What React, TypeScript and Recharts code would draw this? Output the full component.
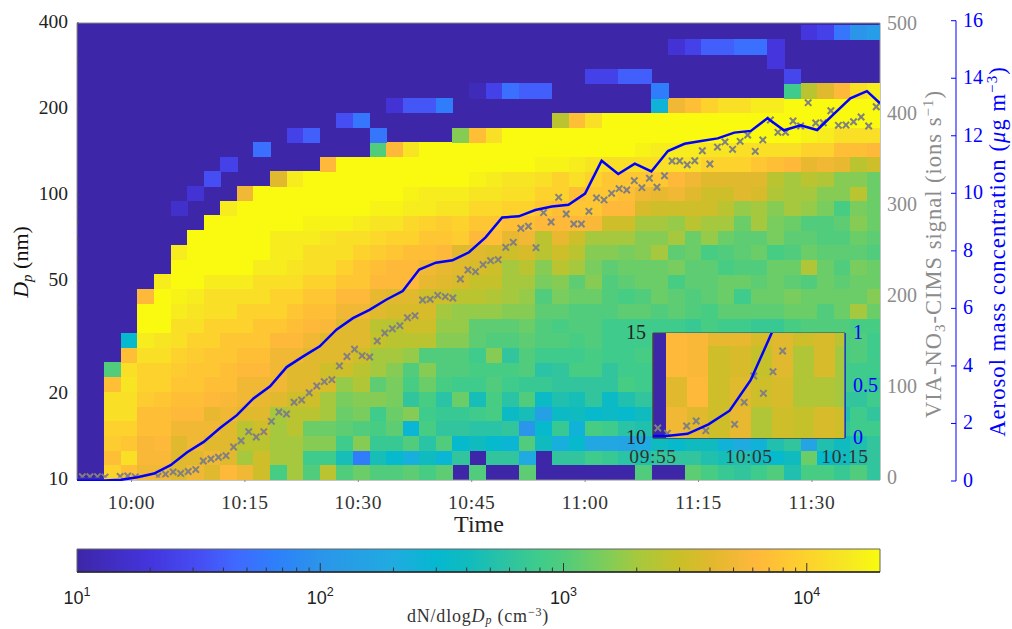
import React from 'react';
import { ComposedChart, Line, Scatter, XAxis, YAxis, ReferenceArea } from 'recharts';

// minutes relative to 10:00, left edge of every size scan
const scanMinutes = [
  -7.99, -5.8, -3.6, -1.41, 0.78, 2.98, 5.17, 7.36, 9.55, 11.75, 13.94, 16.13, 18.33, 20.52, 22.71, 24.9, 27.1,
  29.29, 31.48, 33.68, 35.87, 38.06, 40.25, 42.45, 44.64, 46.83, 49.03, 51.22, 53.41, 55.6, 57.8, 59.99, 62.18,
  64.38, 66.57, 68.76, 70.95, 73.15, 75.34, 77.53, 79.73, 81.92, 84.11, 86.3, 88.5, 90.69, 92.88, 95.08, 97.27,
];

// bin centres in nm, bottom row first
const dpRows = [
  10.61, 11.94, 13.44, 15.13, 17.03, 19.17, 21.58, 24.3, 27.35, 30.79, 34.66, 39.0, 43.9, 49.4, 55.6, 62.6, 70.5,
  79.4, 89.3, 100.5, 113.2, 127.4, 143.4, 161.4, 181.7, 204.6, 230.3, 259.2, 291.8, 328.5, 369.8,
];

// 10*log10(dN/dlogDp), one list per size bin, bottom row first
const logDnRows = [
  [10,10,40,38.5,37,37,36,37,36,38,37,35,29.5,33,30,34,30,31,30,30,30.5,29.5,30.5,10,30,10,10,30.5,10,10,10,10,10,10,30,10,10,30.5,29.5,28.5,28,29,30,27,29.5,29.5,28.5,30,28],
  [10,10,38.5,41,37.5,37.5,36,36,37,36,33,35,33,33,29,29,26.5,18,26.5,25,23.5,26,24.5,28,10,28,28,23,10,28,28,29,28.5,27.5,27,28,28,28,27,26.5,27,26,25,26,31,25,26,27,28],
  [10,10,39.5,39,37.5,38,36,37,36,36,34,34,33,33,32,32,29,32,28.5,28.5,30,27.5,30,25,26,25,24.5,30,26,23.5,25,22.5,22.5,22,23,26,25,26,26,24,23,24,27,28,22,27,26,27,28],
  [10,10,40,40,38.5,38.5,37,37,37,36,34,35,33,34,31,31,30.5,30,29.5,30.5,24.5,29.5,28,28,27.5,27.5,28,20,25,28.5,24,29.5,29,27.5,27,28,28,28,28,28,28,28,28,28,28,28,28,29,29],
  [10,10,41,41,38.5,38.5,38,38,36.5,37,36,36,33,34,34,33,31,31.5,29,31,32,29,28.5,28.5,29,29.5,25.5,26.5,21.5,25.5,26,25,25.5,25,26,27,27,27,27,27,27,27,27,27,27,27,27,29,28],
  [10,10,41,41,39.5,39,38.5,38.5,38,37.5,37,36.5,36,35,35,33,31.5,32,32,31.5,28,29.5,27.5,31,26.5,29.5,27.5,30,25.5,27,26.5,28,25.5,27,28,28,28,28,28,28,28,28,28,28,28,28,28,28,29],
  [10,10,38.5,41.5,40,40,39,39,38.5,38.5,37,37,37,36,36,35.5,32.5,33.5,30.5,31.5,29.5,31,29.5,29,29,30,29,28.5,28.5,28,28,28,28,29.5,29,29,29,29,29,29,29,29,29,29,29,29,29,29,28.5],
  [10,10,30,41,40,40,39.5,39,39,38.5,38,38,37,36,36,35,35,34,33,32,30,32,30,30,29.5,29.5,29.5,30,27.5,28,29.5,29.5,28,29,29,29,29,29,29,29,29,29,29,29,29,29,29,29,29],
  [10,10,10,38.5,41,41,40,39.5,39,39,38.5,38.5,37,37,36,36,36,35,33,33,32.5,30,30,30,29,32,28,30,29,29,29,29.5,29,29,29.5,29.5,29.5,29.5,29.5,29.5,29.5,29.5,29.5,29.5,29.5,29.5,29.5,30,29],
  [10,10,10,25,42,41.5,41,40,40,39,39,39,38,38,37,36,36,36,34.5,34,34,34,32,32,30.5,30,30,30.5,30,30,29.5,30,29,29,29,29.5,29.5,29.5,29.5,29.5,29.5,29.5,29.5,29.5,29.5,29.5,29.5,30,29],
  [10,10,10,10,43,43,41,41,40,40,40,39,39,38.5,38,37.5,36,36,34,34,35,35,32.5,32.5,30.5,30.5,30.5,31,30,29.5,30,30,29,29,29,29,29,28.5,29.5,29,29,28.5,28.5,29.5,30,30,30,29.5,29.5],
  [10,10,10,10,43,43,42,41.5,41,41,40,40,40,39,38.5,38.5,37,37,36,35.5,35.5,35.5,33,32.5,32.5,32.5,32,32,30.5,30.5,30,30,30,30.5,30.5,30,30.5,30,29.5,30.5,30.5,30.5,30.5,31,31,30,31,33,31],
  [10,10,10,10,38,43,42.5,42,41,41,41,41,40,40,39,39,38,38,36.5,36,36,35,35,34,34,33.5,33,32.5,30,31.5,31,31,30,29.5,30,31,30.5,30,30.5,31,29,31,31,31.5,31,31,31,31,32],
  [10,10,10,10,10,42,43,43,42,42,42,41,41,41,40,40,39,39,38,38,38,36.5,36,35.5,34.5,34.5,33,33,31.5,32,30.5,32,30,30.5,31,31,29.5,30.5,30.5,31,31,30.5,31,30.5,30,31,30.5,31,31],
  [10,10,10,10,10,10,43,43,43,43,43,42,42,41.5,41,41,40,39,38.5,38,38,37,36.5,36,35.5,35,33,34,32,34,33,31.5,30.5,31,31,31,31.5,30.5,30.5,29.5,30,30,31,31,33.5,31,30,31.5,31],
  [10,10,10,10,10,10,42,43,43,43,43,43,42,42,41,41,41,40,39.5,39,38.5,38.5,38,36,36,35.5,35,35.5,34,35,34,32,32,31.5,32,33,30.5,31,29.5,30,30.5,31,29.5,30,31,30.5,30.5,30.5,30],
  [10,10,10,10,10,10,10,43,43,43,43,43,42,42,42,41.5,41,41,40.5,40,40,39,39,39.5,38,38.5,36.5,37,34,36.5,35,33,33,33,32,32,33,31,32.5,31,30.5,30.5,31.5,30.5,30.5,30,30,31,30.5],
  [10,10,10,10,10,10,10,10,43,43,43,43,43,43,42.5,42.5,42.5,42,41.5,41.5,40.5,40,39.5,40,39,39,38.5,38.5,38,38,38,37.5,35,35,33,33,32.5,34,33,33,31,33,31.5,31,30,30,30.5,32,31],
  [10,10,10,10,10,10,12,10,10,42,43,43,43,43,43,43,43,43,42.5,42.5,42,42,41.5,41.5,40.5,40.5,40,40,39,38.5,39,39,38,38,35.5,35,35,35,35,34,32.5,33,32,33,32.5,31.5,29.5,31.5,31],
  [10,10,10,10,10,10,10,12.5,10,10,37,43,43,43,43,43,43,43,43,43,42.5,42,42,42,41.5,41.5,41,41,40,40,38.5,39,39,38.5,37,36.5,37,36,35,35,36,35.5,33.5,33,33,32,32,34,31],
  [10,10,10,10,10,10,10,10,15,10,10,10,36,42,43,43,43,43,43,43,43,43,43,43,42.5,42,41.5,41.5,41,40,41,40,39,39,39,39,38,37,36,36,36,36,34,33,34,33.5,32,32,31],
  [10,10,10,10,10,10,10,10,10,14,10,10,10,10,10,38,43,43,43,43,43,43,43,43,43,43,43,43,42.5,42.5,42,41.5,41,41,41,41,41,41,40,40,40,39,38.5,38,36.5,37,36.5,34,35],
  [10,10,10,10,10,10,10,10,10,10,10,17,10,10,10,10,10,10,30,38,41.5,43,43,43,43,43,43,43,43,43,43,43,43,43,42.5,42,42,42,41.5,41.5,41,41,41,41,40,40,38.5,38.5,38],
  [10,10,10,10,10,10,10,10,10,10,10,10,10,14,16,10,10,10,17.5,10,10,10,10,32,38.5,41,43,43,43,43,43,43,43,43,43,43,43,43,43,43,43,43,43,43,42.5,42,41,41,41],
  [10,10,10,10,10,10,10,10,10,10,10,10,10,10,10,10,15,17.5,10,10,10,10,10,10,10,10,10,10,10,34,38.5,41,43,43,43,43,43,43,43,43,43,43,43,43,43,43,43,43,43],
  [10,10,10,10,10,10,10,10,10,10,10,10,10,10,10,10,10,10,10,12.5,15.5,15.5,18,10,10,10,10,10,10,10,10,10,10,10,10,24,37,38.5,40,41,41,42,42,43,43,43,43,43,43],
  [10,10,10,10,10,10,10,10,10,10,10,10,10,10,10,10,10,10,10,10,10,10,10,10,11,14,17,16,16,10,10,10,10,10,10,18,10,10,10,10,10,10,10,29,34,36,38,41,42],
  [10,10,10,10,10,10,10,10,10,10,10,10,10,10,10,10,10,10,10,10,10,10,10,10,10,10,10,10,10,10,10,14,14,16,16,10,10,10,10,10,10,10,10,14.5,10,10,10,10,10],
  [10,10,10,10,10,10,10,10,10,10,10,10,10,10,10,10,10,10,10,10,10,10,10,10,10,10,10,10,10,10,10,10,10,10,10,10,10,10,10,10,10,10,13,10,10,10,10,10,10],
  [10,10,10,10,10,10,10,10,10,10,10,10,10,10,10,10,10,10,10,10,10,10,10,10,10,10,10,10,10,10,10,10,10,10,10,10,12.5,14,16,16,17,17,13,10,10,10,10,10,10],
  [10,10,10,10,10,10,10,10,10,10,10,10,10,10,10,10,10,10,10,10,10,10,10,10,10,10,10,10,10,10,10,10,10,10,10,10,10,10,10,10,10,10,10,10,13,14,17.5,20,21],
];

// inset keeps its own small grid, scans 2 to 10, bottom row first
const insetRows = [
  [37, 36, 35, 36.5, 33.5, 35, 34.5, 35.5, 35],
  [36, 38, 35, 36, 35, 35.5, 33.5, 33.5, 33],
  [38, 37.5, 35, 35.5, 34.5, 36, 33.5, 35.5, 33],
  [38, 37.5, 36.5, 36.5, 35.5, 36, 35, 35.5, 34],
];

const massMinutes = [
  -7.2, -5.8, -3.6, -1.41, 0.78, 2.98, 5.17, 7.36, 9.55, 11.75, 13.94, 16.13, 18.33, 20.52, 22.71, 24.9, 27.1,
  29.29, 31.48, 33.68, 35.87, 38.06, 40.25, 42.45, 44.64, 46.83, 49.03, 51.22, 53.41, 55.6, 57.8, 59.99, 62.18,
  64.38, 66.57, 68.76, 70.95, 73.15, 75.34, 77.53, 79.73, 81.92, 84.11, 86.3, 88.5, 90.69, 92.88, 95.08, 97.27, 99,
];
const massValues = [
  0.02, 0.02, 0.02, 0.04, 0.13, 0.26, 0.55, 1.0, 1.36, 1.85, 2.29, 2.87, 3.29, 3.96, 4.33, 4.68, 5.26,
  5.66, 5.95, 6.3, 6.6, 7.35, 7.59, 7.67, 7.95, 8.47, 9.16, 9.2, 9.42, 9.54, 9.6, 9.99, 11.13,
  10.67, 11.03, 10.76, 11.47, 11.72, 11.82, 11.91, 12.11, 12.17, 12.61, 12.19, 12.36, 12.2, 12.75, 13.3, 13.55, 13.13,
];

const signalMinutes = [
  -6.5, -5.5, -4.5, -3.5, -1.5, -0.5, 0.5, 3.5, 4.5, 5.5, 6.5, 7.5, 8.5, 9.5, 10.5, 11.5, 12.5, 13.5, 14.5, 15.5,
  16.5, 17.5, 18.5, 19.5, 20.5, 21.5, 22.5, 23.5, 24.5, 25.5, 26.5, 27.5, 28.5, 29.5, 30.5, 31.5, 32.5, 33.5, 34.5,
  35.5, 36.5, 37.5, 38.5, 39.5, 40.5, 41.5, 42.5, 43.5, 44.5, 45.5, 46.5, 47.5, 48.5, 49.5, 50.5, 51.5, 52.5, 53.5,
  54.5, 55.5, 56.5, 57.5, 58.5, 59.5, 60.5, 61.5, 62.5, 63.5, 64.5, 65.5, 66.5, 67.5, 68.5, 69.5, 70.5, 71.5, 72.5,
  73.5, 74.5, 75.5, 76.5, 77.5, 78.5, 79.5, 80.5, 81.5, 82.5, 83.5, 84.5, 85.5, 86.5, 87.5, 88.5, 89.5, 90.5, 91.5,
  92.5, 93.5, 94.5, 95.5, 96.5, 97.5, 98.5,
];
const signalValues = [
  0.9, 0.9, 1.0, 0.47, 1.2, 1.7, 0.73, 1.37, 3.57, 6.2, 4.47, 6.63, 8.7, 18.2, 20.4, 22.3, 24, 33.6, 40.5, 50.5,
  44.6, 50.5, 61.9, 72.2, 70, 82.9, 85.4, 93.4, 100.8, 105.6, 107.8, 122.9, 133.3, 141.3, 134.2, 132.8, 150.4, 159.2, 163.9,
  167.3, 176, 178.3, 195.6, 196.3, 200.7, 199.2, 197.8, 218.7, 228.6, 226.8, 234.5, 238.9, 240, 253.6, 259.1, 274.6, 276.8, 253.2,
  291.8, 281.5, 308.7, 290.3, 279.3, 279.3, 293.3, 308, 305.8, 313.1, 318.2, 316.8, 327, 319.3, 329.7, 319.8, 332.5, 348.7, 348.7,
  344.6, 349, 360, 345.4, 364.1, 369.7, 361.6, 370.4, 377.4, 359.4, 371.9, 393.9, 380.3, 380.3, 392.8, 387.3, 413, 390.6, 390.9,
  404.1, 388, 388.4, 392, 397.2, 387.3, 408.5,
];

const timeTicks = [0, 15, 30, 45, 60, 75, 90];
const timeLabels = ['10:00', '10:15', '10:30', '10:45', '11:00', '11:15', '11:30'];
const dpTicks = [10, 20, 30, 40, 50, 60, 70, 80, 90, 100, 200, 300, 400];
const dpLabels = [10, 20, 50, 100, 200, 400];
const signalTicks = [0, 100, 200, 300, 400, 500];
const massTicks = [0, 2, 4, 6, 8, 10, 12, 14, 16];
const insetTimeTicks = [-5, 5, 15];
const insetTimeLabels = ['09:55', '10:05', '10:15'];
const insetMassTicks = [0, 0.5, 1];
const colorbarTicks = [
  10, 20, 30, 40, 50, 60, 70, 80, 90, 100, 200, 300, 400, 500, 600, 700, 800, 900, 1000,
  2000, 3000, 4000, 5000, 6000, 7000, 8000, 9000, 10000,
];
const colorbarLabels: Record<number, string> = { 10: '1', 100: '2', 1000: '3', 10000: '4' };

const colorLevels = [10, 13, 15.2, 16.6, 18.2, 20, 23, 24.8, 26.2, 27.8, 29.1, 30, 31.7, 33.1, 34.7, 36.1, 37.9, 40, 41.7, 43.1];
const colorHexes = [
  '#3d26a8', '#4435dd', '#4650f5', '#3f6aff', '#2d80fa', '#2b95ea', '#20abe0', '#05b8d0', '#12bcbc', '#2fc4a0',
  '#40cc8a', '#50cc7c', '#7dcd5a', '#a8c83c', '#c8c028', '#e2b82e', '#ffb83b', '#fdd22c', '#f6e822', '#f9fb0e',
];

const W = 1012;
const H = 629;
const DARK = '#3d26a8';
const SERIF = '"Liberation Serif", serif';
const SANS = '"Liberation Sans", sans-serif';
const GREY = '#8c8c8c';
const BLUE = '#0000ff';
const X_DOMAIN: [number, number] = [-7.21, 99];
const SCAN_STEP = 2.193;
const DP_STEP = 1.1257; // ratio between neighbouring bins
const CELL_OVERLAP = 0.6; // stops the dark background showing between rounded cells

const hexRgb = (h: string) => [1, 3, 5].map(i => parseInt(h.slice(i, i + 2), 16));

const levelColor = (level: number) => {
  let i = 0;
  while (i < colorLevels.length - 2 && level > colorLevels[i + 1]) i++;
  const f = Math.min(1, Math.max(0, (level - colorLevels[i]) / (colorLevels[i + 1] - colorLevels[i])));
  const a = hexRgb(colorHexes[i]);
  const b = hexRgb(colorHexes[i + 1]);
  return `rgb(${a.map((v, j) => Math.round(v + (b[j] - v) * f)).join(',')})`;
};

const heatCells = logDnRows.flatMap((row, r) =>
  row.map((level, k) => ({ t: scanMinutes[k] + SCAN_STEP / 2, d: dpRows[r], level })).filter(c => c.level > 10)
);
const insetCells = insetRows.flatMap((row, r) =>
  row.map((level, k) => ({ t: scanMinutes[k + 2] + SCAN_STEP / 2, d: dpRows[r], level }))
);
const massData = massMinutes.map((t, i) => ({ t, mass: massValues[i] }));
const signalData = signalMinutes.map((t, i) => ({ t, signal: signalValues[i] }));
// only the first part of the mass curve reaches the inset
const insetMassData = massData.filter(p => p.t >= -5.8 && p.t <= 9.55);

type Box = { left: number; right: number; top: number; bottom: number };

// one heat map cell, the scales give the centre and the box keeps it inside the plot
const makeCell = (box: Box, xPerMin: number, yPerBin: number) => (props: any) => {
  const { cx, cy, payload } = props;
  const w = SCAN_STEP * xPerMin;
  const x0 = Math.max(cx - w / 2, box.left);
  const x1 = Math.min(cx + w / 2 + CELL_OVERLAP, box.right);
  const y0 = Math.max(cy - yPerBin / 2 - CELL_OVERLAP, box.top);
  const y1 = Math.min(cy + yPerBin / 2, box.bottom);
  return <rect x={x0} y={y0} width={Math.max(0, x1 - x0)} height={Math.max(0, y1 - y0)} fill={levelColor(payload.level)} shapeRendering="crispEdges" />;
};

const Cross = (props: any) => {
  const { cx, cy } = props;
  const s = 3.2;
  return (
    <g stroke="#808080" strokeWidth={2}>
      <line x1={cx - s} y1={cy - s} x2={cx + s} y2={cy + s} />
      <line x1={cx - s} y1={cy + s} x2={cx + s} y2={cy - s} />
    </g>
  );
};

const mainBox: Box = { left: 77, right: 880, top: 23, bottom: 480 };
const insetBox: Box = { left: 653, right: 845, top: 333, bottom: 438 };
const MainCell = makeCell(mainBox, 803 / (X_DOMAIN[1] - X_DOMAIN[0]), (457 * Math.log(DP_STEP)) / Math.log(40));
const InsetCell = makeCell(insetBox, 192 / 20, (105 * Math.log(DP_STEP)) / Math.log(1.5));

const Layer: React.FC<{ children: React.ReactNode }> = ({ children }) => (
  <div style={{ position: 'absolute', left: 0, top: 0, width: W, height: H }}>{children}</div>
);

const TimeTick = (props: any) => {
  const { x, y, payload } = props;
  return (
    <g>
      <line x1={x} x2={x} y1={y} y2={y + 2} stroke={GREY} />
      <text x={x} y={y + 29} textAnchor="middle" fontFamily={SERIF} fontSize={19.5} letterSpacing={0.6} fill="#333">
        {timeLabels[timeTicks.indexOf(payload.value)]}
      </text>
    </g>
  );
};

const TopTick = (props: any) => <line x1={props.x} x2={props.x} y1={props.y} y2={props.y - 2} stroke={GREY} />;

const DpTick = (props: any) => {
  const { x, y, payload } = props;
  const label = dpLabels.includes(payload.value);
  return (
    <g>
      <line x1={x} x2={x + 2} y1={y} y2={y} stroke="#555" />
      {label && (
        <text x={x - 9} y={y + 5} textAnchor="end" fontFamily={SERIF} fontSize={19.5} fill="#222">
          {payload.value}
        </text>
      )}
    </g>
  );
};

const SignalTick = (props: any) => {
  const { x, y, payload } = props;
  return (
    <text x={x + 7} y={y + 6} fontFamily={SERIF} fontSize={20} fill={GREY}>
      {payload.value}
    </text>
  );
};

const MassTick = (props: any) => {
  const { x, y, payload } = props;
  return (
    <g>
      <line x1={x - 5} x2={x} y1={y} y2={y} stroke={BLUE} />
      <text x={x + 7} y={y + 6} fontFamily={SERIF} fontSize={20} fill={BLUE}>
        {payload.value}
      </text>
    </g>
  );
};

const InsetTimeTick = (props: any) => {
  const { x, y, payload } = props;
  return (
    <text x={x} y={y + 25} textAnchor="middle" fontFamily={SERIF} fontSize={19.5} letterSpacing={0.6} fill="#333">
      {insetTimeLabels[insetTimeTicks.indexOf(payload.value)]}
    </text>
  );
};

const InsetDpTick = (props: any) => {
  const { x, y, payload } = props;
  return (
    <text x={x - 7} y={y + 6} textAnchor="end" fontFamily={SERIF} fontSize={20} fill="#222">
      {payload.value}
    </text>
  );
};

const InsetMassTick = (props: any) => {
  const { x, y, payload } = props;
  return (
    <text x={x + 8} y={y + 6} fontFamily={SERIF} fontSize={20} fill={BLUE}>
      {payload.value}
    </text>
  );
};

const ColorbarTick = (props: any) => {
  const { x, y, payload } = props;
  const exp = colorbarLabels[payload.value];
  return (
    <g>
      {payload.value > 10 && <line x1={x} x2={x} y1={y} y2={y - (exp ? 9 : 4.5)} stroke="#333" />}
      {exp && (
        <text x={x} y={y + 32} textAnchor="middle" fontFamily={SANS} fontSize={18} fill="#222">
          10
          <tspan dy={-8} fontSize={12.5}>{exp}</tspan>
        </text>
      )}
    </g>
  );
};

const App: React.FC = () => (
  <div style={{ position: 'absolute', left: 0, top: 0, width: W, height: H, background: '#fff' }}>
    {/* size distribution with time and diameter axes */}
    <Layer>
      <ComposedChart width={W} height={H} margin={{ top: 22, right: 131, bottom: 119, left: 17 }}>
        <XAxis xAxisId="t" dataKey="t" type="number" domain={X_DOMAIN} allowDataOverflow ticks={timeTicks} interval={0}
          tick={TimeTick} tickLine={false} tickSize={0} tickMargin={0} height={30} axisLine={{ stroke: GREY }} />
        <XAxis xAxisId="top" orientation="top" type="number" domain={X_DOMAIN} allowDataOverflow ticks={timeTicks} interval={0}
          tick={TopTick} tickLine={false} tickSize={0} tickMargin={0} height={1} axisLine={{ stroke: GREY }} />
        <YAxis yAxisId="dp" dataKey="d" type="number" scale="log" domain={[10, 400]} allowDataOverflow ticks={dpTicks} interval={0}
          tick={DpTick} tickLine={false} tickSize={0} tickMargin={0} width={60} axisLine={{ stroke: GREY }} />
        <YAxis yAxisId="edge" orientation="right" type="number" domain={[0, 1]} allowDataOverflow tick={false} tickLine={false} width={1} axisLine={{ stroke: GREY }} />
        <ReferenceArea xAxisId="t" yAxisId="dp" x1={X_DOMAIN[0]} x2={X_DOMAIN[1]} y1={10} y2={400} fill={DARK} fillOpacity={1} stroke="none" />
        <Scatter xAxisId="t" yAxisId="dp" data={heatCells} dataKey="d" shape={MainCell} isAnimationActive={false} />
      </ComposedChart>
    </Layer>

    {/* VIA-NO3-CIMS signal */}
    <Layer>
      <ComposedChart width={W} height={H} margin={{ top: 23.7, right: 72, bottom: 151.5, left: 77 }}>
        <XAxis dataKey="t" type="number" domain={X_DOMAIN} allowDataOverflow hide />
        <YAxis yAxisId="sig" dataKey="signal" orientation="right" type="number" domain={[0, 500]} allowDataOverflow ticks={signalTicks} interval={0}
          tick={SignalTick} tickLine={false} tickSize={0} tickMargin={0} width={60} axisLine={false} />
        <Scatter yAxisId="sig" data={signalData} dataKey="signal" shape={Cross} isAnimationActive={false} />
      </ComposedChart>
    </Layer>

    {/* aerosol mass */}
    <Layer>
      <ComposedChart width={W} height={H} data={massData} margin={{ top: 20.7, right: 0, bottom: 148, left: 77 }}>
        <XAxis dataKey="t" type="number" domain={X_DOMAIN} allowDataOverflow hide />
        <YAxis yAxisId="gap" orientation="right" type="number" domain={[0, 1]} tick={false} tickLine={false} axisLine={false} width={76} />
        <YAxis yAxisId="mass" orientation="right" type="number" domain={[0, 16]} allowDataOverflow ticks={massTicks} interval={0}
          tick={MassTick} tickLine={false} tickSize={0} tickMargin={0} width={56} axisLine={{ stroke: BLUE }} />
        <Line yAxisId="mass" dataKey="mass" stroke={BLUE} strokeWidth={2.5} dot={false} isAnimationActive={false} />
      </ComposedChart>
    </Layer>

    {/* inset, cells and signal */}
    <Layer>
      <ComposedChart width={W} height={H} margin={{ top: 333, right: 167, bottom: 166, left: 623 }}>
        <XAxis dataKey="t" xAxisId="t" type="number" domain={[-5, 15]} allowDataOverflow ticks={insetTimeTicks} interval={0}
          tick={InsetTimeTick} tickLine={false} tickSize={0} tickMargin={0} height={25} axisLine={{ stroke: '#444' }} />
        <YAxis yAxisId="dp" dataKey="d" type="number" scale="log" domain={[10, 15]} allowDataOverflow ticks={[10, 15]} interval={0}
          tick={InsetDpTick} tickLine={false} tickSize={0} tickMargin={0} width={30} axisLine={{ stroke: '#444' }} />
        <YAxis yAxisId="sig" dataKey="signal" type="number" domain={[0, 10.5]} allowDataOverflow hide />
        <ReferenceArea xAxisId="t" yAxisId="dp" x1={-5} x2={15} y1={10} y2={15} fill={DARK} fillOpacity={1} stroke="#444" />
        <Scatter xAxisId="t" yAxisId="dp" data={insetCells} dataKey="d" shape={InsetCell} isAnimationActive={false} />
        <Scatter xAxisId="t" yAxisId="sig" data={signalData} dataKey="signal" shape={Cross} isAnimationActive={false} />
      </ComposedChart>
    </Layer>

    {/* inset, mass line on top */}
    <Layer>
      <ComposedChart width={W} height={H} data={insetMassData} margin={{ top: 333, right: 127, bottom: 191, left: 653 }}>
        <XAxis dataKey="t" type="number" domain={[-5, 15]} allowDataOverflow hide />
        <YAxis yAxisId="mass" orientation="right" type="number" domain={[0, 1]} allowDataOverflow ticks={insetMassTicks} interval={0}
          tick={InsetMassTick} tickLine={false} tickSize={0} tickMargin={0} width={40} axisLine={{ stroke: BLUE }} />
        <Line yAxisId="mass" dataKey="mass" stroke={BLUE} strokeWidth={2.5} dot={false} isAnimationActive={false} />
      </ComposedChart>
    </Layer>

    {/* colour bar */}
    <Layer>
      <ComposedChart width={W} height={H} margin={{ top: 549, right: 132, bottom: 27, left: 77 }}>
        <defs>
          <linearGradient id="cbarFill" x1="0" x2="1" y1="0" y2="0">
            {colorLevels.map((level, i) => (
              <stop key={level} offset={`${Math.min(100, ((level - 10) / 33.01) * 100)}%`} stopColor={colorHexes[i]} />
            ))}
          </linearGradient>
        </defs>
        <XAxis dataKey="v" type="number" scale="log" domain={[10, 20000]} allowDataOverflow ticks={colorbarTicks} interval={0}
          tick={ColorbarTick} tickLine={false} tickSize={0} tickMargin={0} height={30} axisLine={{ stroke: '#222', strokeWidth: 1.5 }} />
        <YAxis yAxisId="c" type="number" domain={[0, 1]} allowDataOverflow hide />
        <ReferenceArea yAxisId="c" x1={10} x2={20000} y1={0} y2={1} fill="url(#cbarFill)" fillOpacity={1} stroke="#666" />
      </ComposedChart>
    </Layer>

    {/* titles */}
    <svg width={W} height={H} style={{ position: 'absolute', left: 0, top: 0 }}>
      <text x={479} y={532} textAnchor="middle" fontFamily={SERIF} fontSize={24} fill="#222">Time</text>
      <text transform="rotate(-90 28 262)" x={28} y={262} textAnchor="middle" fontFamily={SERIF} fontSize={22} fill="#111">
        <tspan fontStyle="italic">D</tspan><tspan dy={4} fontSize={15} fontStyle="italic">p</tspan><tspan dy={-4}> (nm)</tspan>
      </text>
      <text transform="rotate(-90 941 254)" x={941} y={254} textAnchor="middle" fontFamily={SERIF} fontSize={22.5} letterSpacing={1} fill={GREY}>
        VIA-NO<tspan dy={4} fontSize={15}>3</tspan><tspan dy={-4}>-CIMS signal (ions s</tspan><tspan dy={-8} fontSize={15}>−1</tspan><tspan dy={8}>)</tspan>
      </text>
      <text transform="rotate(-90 1005 251.5)" x={1005} y={251.5} textAnchor="middle" fontFamily={SERIF} fontSize={22.5} letterSpacing={1.1} fill={BLUE}>
        Aerosol mass concentration (<tspan fontStyle="italic">μ</tspan>g m<tspan dy={-8} fontSize={15}>−3</tspan><tspan dy={8}>)</tspan>
      </text>
      <text x={478} y={622} textAnchor="middle" fontFamily={SERIF} fontSize={18} letterSpacing={0.8} fill="#333">
        dN/dlog<tspan fontStyle="italic">D</tspan><tspan dy={2} fontSize={12} fontStyle="italic">p</tspan><tspan dy={-2}> (cm</tspan><tspan dy={-6} fontSize={12}>−3</tspan><tspan dy={6}>)</tspan>
      </text>
    </svg>
  </div>
);

export default App;
